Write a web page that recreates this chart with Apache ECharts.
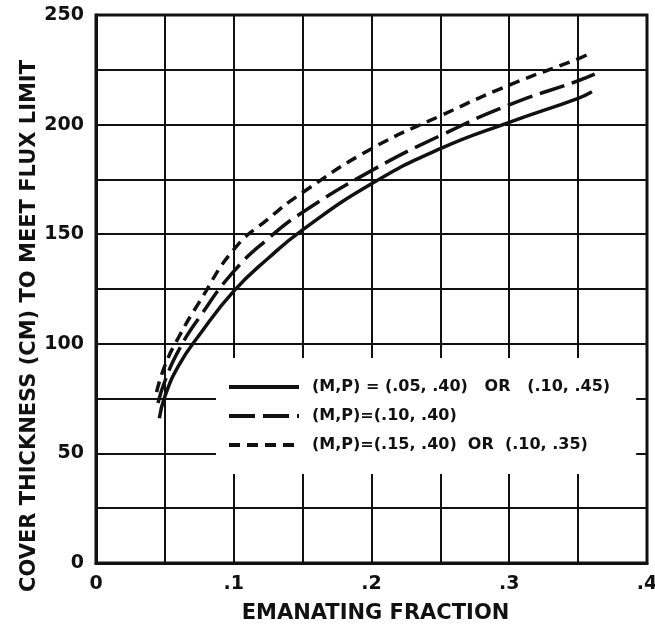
<!DOCTYPE html>
<html>
<head>
<meta charset="utf-8">
<title>Cover thickness vs emanating fraction</title>
<script src="https://cdn.jsdelivr.net/npm/echarts@6.0.0/dist/echarts.min.js"></script>
<style>
  html, body { margin: 0; padding: 0; background: #fff; }
  #main { width: 655px; height: 631px; }
</style>
</head>
<body>
<div id="main"></div>
<script>
// values
var xSolid = [0.046, 0.05, 0.06, 0.075, 0.1, 0.125, 0.15, 0.2, 0.25, 0.3, 0.35, 0.36];
var ySolid = [66, 76, 90, 104, 124, 139, 152, 173, 189, 201, 212, 215];

var xLong = [0.045, 0.05, 0.06, 0.075, 0.1, 0.125, 0.15, 0.2, 0.25, 0.3, 0.35, 0.362];
var yLong = [73, 83, 97, 112, 133, 148, 160, 179, 195, 209, 220, 223];

var xShort = [0.044, 0.05, 0.06, 0.075, 0.1, 0.125, 0.15, 0.2, 0.25, 0.3, 0.35, 0.357];
var yShort = [78, 90, 103, 119, 143, 157, 169, 189, 204, 218, 230, 232];

var seriesNames = [
  '(M,P) = (.05, .40)   OR   (.10, .45)',
  '(M,P)=(.10, .40)',
  '(M,P)=(.15, .40)  OR  (.10, .35)'
];

var xTickLabels = ['0', '.1', '.2', '.3', '.4'];
var yTickLabels = ['0', '50', '100', '150', '200', '250'];

var font = 'DejaVu Sans';
var ink = '#111';

function pairs(xs, ys) {
  return xs.map(function (x, i) { return [x, ys[i]]; });
}

var myChart = echarts.init(document.getElementById('main'));

myChart.setOption({
  backgroundColor: '#fff',
  animation: false,
  grid: {
    left: 96,
    right: 8,
    top: 15,
    bottom: 68,
    outerBoundsMode: 'none',
    show: true,
    borderColor: ink,
    borderWidth: 3
  },
  legend: {
    orient: 'vertical',
    left: 216,
    top: 358,
    itemWidth: 70,
    itemHeight: 14,
    itemGap: 13,
    padding: [21, 26, 21, 11],
    backgroundColor: '#fff',
    selectedMode: false,
    itemStyle: { opacity: 0 },
    lineStyle: { width: 4 },
    textStyle: {
      fontFamily: font,
      fontWeight: 'bold',
      fontSize: 16,
      color: ink,
      padding: [0, 0, 0, 8]
    },
    data: seriesNames
  },
  xAxis: {
    type: 'value',
    min: 0,
    max: 0.4,
    interval: 0.05,
    name: 'EMANATING FRACTION',
    nameLocation: 'middle',
    nameGap: 40,
    nameMoveOverlap: false,
    nameTextStyle: {
      fontFamily: font,
      fontWeight: 'bold',
      fontSize: 21,
      color: ink,
      padding: [0, 0, 0, 8]
    },
    axisLine: { lineStyle: { color: ink, width: 3 } },
    axisTick: { show: false },
    axisLabel: {
      margin: 12,
      fontFamily: font,
      fontWeight: 'bold',
      fontSize: 19,
      color: ink,
      formatter: function (v) {
        var i = Math.round(v / 0.1);
        return Math.abs(v - i * 0.1) < 1e-6 ? xTickLabels[i] : '';
      }
    },
    splitLine: { show: true, lineStyle: { color: ink, width: 2 } }
  },
  yAxis: {
    type: 'value',
    min: 0,
    max: 250,
    interval: 25,
    name: 'COVER THICKNESS (CM) TO MEET FLUX LIMIT',
    nameLocation: 'middle',
    nameGap: 56,
    nameMoveOverlap: false,
    nameTextStyle: {
      fontFamily: font,
      fontWeight: 'bold',
      fontSize: 21,
      color: ink,
      padding: [0, 74, 0, 0]
    },
    axisLine: { show: true, lineStyle: { color: ink, width: 3 } },
    axisTick: { show: false },
    axisLabel: {
      margin: 12,
      padding: [8, 0, 0, 0],
      fontFamily: font,
      fontWeight: 'bold',
      fontSize: 19,
      color: ink,
      formatter: function (v) {
        return v % 50 === 0 ? yTickLabels[v / 50] : '';
      }
    },
    splitLine: { show: true, lineStyle: { color: ink, width: 2 } }
  },
  series: [
    {
      name: seriesNames[0],
      type: 'line',
      symbol: 'none',
      smooth: 0.5,
      data: pairs(xSolid, ySolid),
      lineStyle: { color: ink, width: 3.5, type: 'solid' }
    },
    {
      name: seriesNames[1],
      type: 'line',
      symbol: 'none',
      smooth: 0.5,
      data: pairs(xLong, yLong),
      lineStyle: { color: ink, width: 3.5, type: [26, 8] }
    },
    {
      name: seriesNames[2],
      type: 'line',
      symbol: 'none',
      smooth: 0.5,
      data: pairs(xShort, yShort),
      lineStyle: { color: ink, width: 3.5, type: [11, 7] }
    }
  ]
});
</script>
</body>
</html>
